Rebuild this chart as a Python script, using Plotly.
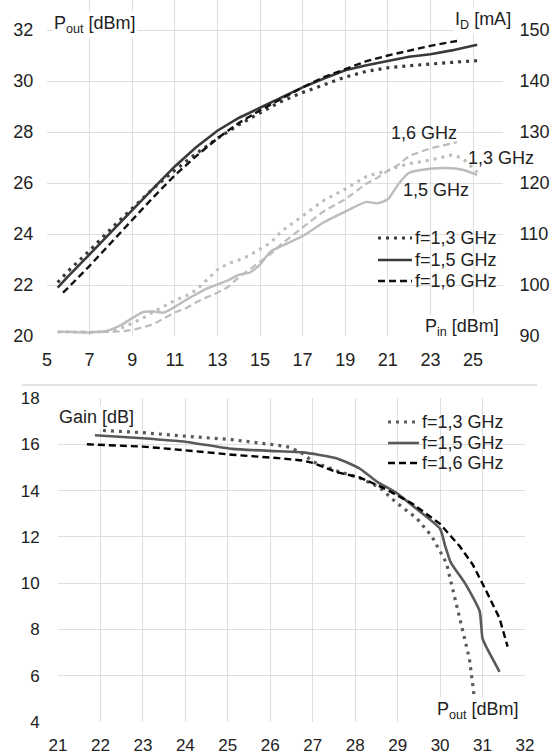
import plotly.graph_objects as go

W, H = 554, 756

# ---------------- data: top chart (Pout and ID versus Pin) ----------------
pin_pout_13 = [5.5, 6, 7, 8, 9, 10, 11, 12, 13, 14, 15, 16, 17, 18, 19, 20, 21, 22, 23, 24, 25.3]
pout_13 = [22.1, 22.55, 23.35, 24.2, 25.0, 25.8, 26.5, 27.15, 27.75, 28.28, 28.75, 29.2, 29.55,
           29.85, 30.15, 30.38, 30.52, 30.6, 30.67, 30.73, 30.8]
pin_pout_15 = [5.5, 6, 7, 8, 9, 10, 11, 12, 13, 14, 15, 16, 17, 18, 19, 20, 21, 22, 23, 24, 25.2]
pout_15 = [21.9, 22.35, 23.2, 24.08, 24.95, 25.8, 26.65, 27.4, 28.05, 28.55, 28.95, 29.35, 29.75,
           30.1, 30.42, 30.62, 30.8, 30.95, 31.05, 31.2, 31.42]
pin_pout_16 = [5.75, 6, 7, 8, 9, 10, 11, 12, 13, 14, 15, 16, 17, 18, 19, 20, 21, 22, 23, 24.25]
pout_16 = [21.7, 21.9, 22.75, 23.65, 24.55, 25.45, 26.3, 27.05, 27.75, 28.35, 28.85, 29.3, 29.75,
           30.15, 30.48, 30.78, 31.0, 31.2, 31.38, 31.57]

pin_id = [5.5, 6, 7, 7.8, 8.5, 9, 9.5, 10, 10.5, 11, 11.5, 12, 12.5, 13, 13.5, 14, 14.5, 15, 15.5,
          16, 17, 18, 19, 20, 20.5, 21, 21.5, 22, 23, 24, 24.5, 25.2]
id_13 = [90.8, 90.8, 90.7, 90.9, 91.6, 92.5, 93.5, 94.7, 95.8, 97.0, 97.8, 99.0, 101.0, 103.0, 104.2,
         104.9, 105.8, 107.0, 108.3, 110.5, 113.5, 116.6, 118.8, 121.3, 121.9, 122.4, 123.2, 123.8,
         124.5, 125.5, 124.9, 122.1]
id_15 = [90.8, 90.8, 90.7, 91.0, 92.2, 93.5, 94.7, 94.8, 94.6, 95.7, 97.0, 98.2, 99.3, 100.1, 100.9,
         102.0, 102.4, 104.0, 106.6, 107.6, 109.6, 112.3, 114.4, 116.3, 116.0, 116.8, 119.8, 122.0,
         122.8, 122.9, 122.6, 121.6]
pin_id_16 = [5.5, 6, 7, 7.8, 8.5, 9, 9.5, 10, 10.5, 11, 11.5, 12, 12.5, 13, 13.5, 14, 14.5, 15, 15.5,
             16, 17, 18, 19, 20, 20.5, 21, 21.5, 22, 23, 24.25]
id_16 = [90.8, 90.8, 90.7, 90.8, 90.9, 91.2, 91.7, 92.3, 93.5, 94.6, 95.4, 96.6, 97.6, 98.5, 99.6,
         101.5, 103.0, 104.5, 106.1, 108.0, 111.3, 114.5, 116.8, 119.9, 121.0, 122.4, 123.6, 125.3,
         126.8, 128.0]

# ---------------- data: bottom chart (Gain versus Pout) ----------------
gpout_13 = [22.06, 23.0, 24.0, 25.1, 26.2, 26.46, 26.76, 27.0, 27.56, 28.1, 28.58, 28.97, 29.45,
            29.8, 30.15, 30.38, 30.53, 30.69, 30.8]
gain_13 = [16.6, 16.5, 16.35, 16.2, 15.95, 15.87, 15.6, 15.25, 14.85, 14.55, 14.13, 13.48, 12.8,
           12.04, 10.87, 9.07, 8.04, 6.74, 5.17]
gpout_15 = [21.87, 23.0, 24.03, 25.1, 26.2, 26.76, 27.56, 28.1, 28.5, 28.97, 29.45, 30.0, 30.12,
            30.25, 30.6, 30.93, 31.0, 31.1, 31.4]
gain_15 = [16.39, 16.26, 16.1, 15.8, 15.7, 15.65, 15.4, 14.96, 14.4, 13.9, 13.2, 12.35, 11.6,
           10.9, 9.96, 8.8, 7.6, 7.2, 6.17]
gpout_16 = [21.68, 23.0, 24.0, 25.1, 26.2, 26.76, 27.0, 27.56, 28.1, 28.65, 29.35, 30.0, 30.46,
            30.77, 31.09, 31.4, 31.59]
gain_16 = [16.0, 15.9, 15.74, 15.55, 15.4, 15.3, 15.2, 14.8, 14.57, 14.13, 13.43, 12.56, 11.6,
           10.8, 9.65, 8.48, 7.26]

legend_labels = ["f=1,3 GHz", "f=1,5 GHz", "f=1,6 GHz"]
freq_labels = ["1,3 GHz", "1,5 GHz", "1,6 GHz"]

top_x_ticks = [5, 7, 9, 11, 13, 15, 17, 19, 21, 23, 25]
top_y_ticks = [20, 22, 24, 26, 28, 30, 32]
top_y2_ticks = [90, 100, 110, 120, 130, 140, 150]
bot_x_ticks = list(range(21, 33))
bot_y_ticks = [4, 6, 8, 10, 12, 14, 16, 18]

# ---------------- styles ----------------
FONT = "Liberation Sans, Arial, sans-serif"
GRID = "#dedede"
DOT = "3px,5px"
DASH_TOP = "7px,4px"
DASH_BOT = "7px,4px"
DARK_TOP = "#3a3a3a"
DARK_BOT = "#5a5a5a"
LIGHT = "#bcbcbc"


def px(x):
    return x / W


def py(y):
    return 1 - y / H


fig = go.Figure()

# top: Pout
fig.add_trace(go.Scatter(x=pin_pout_13, y=pout_13, mode="lines", xaxis="x", yaxis="y",
                         line=dict(color=DARK_TOP, width=3.2, dash=DOT), name=legend_labels[0]))
fig.add_trace(go.Scatter(x=pin_pout_15, y=pout_15, mode="lines", xaxis="x", yaxis="y",
                         line=dict(color=DARK_TOP, width=2.6), name=legend_labels[1]))
fig.add_trace(go.Scatter(x=pin_pout_16, y=pout_16, mode="lines", xaxis="x", yaxis="y",
                         line=dict(color="#111111", width=2.4, dash=DASH_TOP), name=legend_labels[2]))
# top: ID
fig.add_trace(go.Scatter(x=pin_id, y=id_13, mode="lines", xaxis="x", yaxis="y3",
                         line=dict(color=LIGHT, width=3, dash=DOT), name="ID " + freq_labels[0]))
fig.add_trace(go.Scatter(x=pin_id, y=id_15, mode="lines", xaxis="x", yaxis="y3",
                         line=dict(color=LIGHT, width=2.4, shape="spline", smoothing=0.6),
                         name="ID " + freq_labels[1]))
fig.add_trace(go.Scatter(x=pin_id_16, y=id_16, mode="lines", xaxis="x", yaxis="y3",
                         line=dict(color=LIGHT, width=2.2, dash=DASH_TOP), name="ID " + freq_labels[2]))
# bottom: gain
fig.add_trace(go.Scatter(x=gpout_13, y=gain_13, mode="lines", xaxis="x2", yaxis="y2",
                         line=dict(color=DARK_BOT, width=3.2, dash=DOT), name=legend_labels[0]))
fig.add_trace(go.Scatter(x=gpout_15, y=gain_15, mode="lines", xaxis="x2", yaxis="y2",
                         line=dict(color=DARK_BOT, width=2.6, shape="spline", smoothing=0.5),
                         name=legend_labels[1]))
fig.add_trace(go.Scatter(x=gpout_16, y=gain_16, mode="lines", xaxis="x2", yaxis="y2",
                         line=dict(color="#000000", width=2.4, dash=DASH_BOT), name=legend_labels[2]))

tickfont_top = dict(family=FONT, size=18, color="#222222")
tickfont_bot = dict(family=FONT, size=17, color="#222222")

top_left, top_right, top_top, top_bottom = 47, 503, 0, 336
bot_left, bot_right, bot_top, bot_bottom = 58, 525, 398, 722

common = dict(showline=False, zeroline=False, automargin=False, gridcolor=GRID, gridwidth=1)
invisible_ticks = dict(ticks="outside", tickcolor="rgba(0,0,0,0)")

fig.update_layout(
    width=W, height=H,
    margin=dict(l=0, r=0, t=0, b=0),
    paper_bgcolor="white", plot_bgcolor="white",
    showlegend=False,
    font=dict(family=FONT, color="#222222"),
    xaxis=dict(domain=[px(top_left), px(top_right)], range=[5, 5 + (top_right - top_left) / 21.3],
               tickvals=top_x_ticks, anchor="y", tickfont=tickfont_top, ticklen=7,
               **invisible_ticks, **common),
    yaxis=dict(domain=[py(top_bottom), py(top_top)], range=[20, 20 + (top_bottom - top_top) / 25.5],
               tickvals=top_y_ticks, anchor="x", tickfont=tickfont_top, ticklen=9,
               **invisible_ticks, **common),
    yaxis3=dict(overlaying="y", side="right", anchor="x",
                range=[90, 90 + (top_bottom - top_top) / 25.5 * 5],
                tickvals=top_y2_ticks, tickfont=tickfont_top, showgrid=False, ticklen=12,
                showline=False, zeroline=False, automargin=False, **invisible_ticks),
    xaxis2=dict(domain=[px(bot_left), px(bot_right)], range=[21, 32], tickvals=bot_x_ticks,
                anchor="y2", tickfont=tickfont_bot, ticklen=8, **invisible_ticks, **common),
    yaxis2=dict(domain=[py(bot_bottom), py(bot_top)], range=[4, 18], tickvals=bot_y_ticks,
                anchor="x2", tickfont=tickfont_bot, ticklen=14, **invisible_ticks, **common),
)

shapes = []
annotations = []

# chart border line of lower chart
shapes.append(dict(type="line", xref="paper", yref="paper", x0=px(22), x1=px(537), y0=py(385), y1=py(385),
                   line=dict(color="#d9d9d9", width=1.5)))


def legend_block(x0, x1, xtext, ys, bg, colors, widths, dashes, fsize):
    shapes.append(dict(type="rect", xref="paper", yref="paper", layer="between",
                       x0=px(bg[0]), x1=px(bg[1]), y0=py(bg[3]), y1=py(bg[2]),
                       fillcolor="white", line=dict(width=0)))
    for lab, yy, c, w, d in zip(legend_labels, ys, colors, widths, dashes):
        shapes.append(dict(type="line", xref="paper", yref="paper", x0=px(x0), x1=px(x1),
                           y0=py(yy), y1=py(yy), line=dict(color=c, width=w, dash=d)))
        annotations.append(dict(text=lab, xref="paper", yref="paper", x=px(xtext), y=py(yy),
                                xanchor="left", yanchor="middle", showarrow=False,
                                font=dict(family=FONT, size=fsize, color="#222222")))


legend_block(378, 412, 413, [238, 260, 281], (372, 506, 224, 293),
             [DARK_TOP, DARK_TOP, "#111111"], [3.2, 2.6, 2.4], [DOT, "solid", DASH_TOP], 18)
legend_block(388, 419, 420, [422, 443, 463], (378, 508, 409, 476),
             [DARK_BOT, DARK_BOT, "#000000"], [3.2, 2.6, 2.4], [DOT, "solid", DASH_BOT], 18)


def label(text, x, y, xanchor, size=18, bg=None):
    annotations.append(dict(text=text, xref="paper", yref="paper", x=px(x), y=py(y),
                            xanchor=xanchor, yanchor="middle", showarrow=False,
                            bgcolor=bg, borderpad=1,
                            font=dict(family=FONT, size=size, color="#222222")))


label("P<sub>out</sub> [dBm]", 52, 25, "left", bg="white")
label("I<sub>D</sub> [mA]", 513, 20, "right", bg="white")
label(freq_labels[2], 389, 133, "left")
label(freq_labels[0], 466, 158, "left")
label(freq_labels[1], 401, 190, "left")
label("P<sub>in</sub> [dBm]", 501, 327, "right", bg="white")
label("Gain [dB]", 57, 417, "left", bg="white")
label("P<sub>out</sub> [dBm]", 521, 710, "right", bg="white")

fig.update_layout(shapes=shapes, annotations=annotations)

fig.write_html("out.html")
